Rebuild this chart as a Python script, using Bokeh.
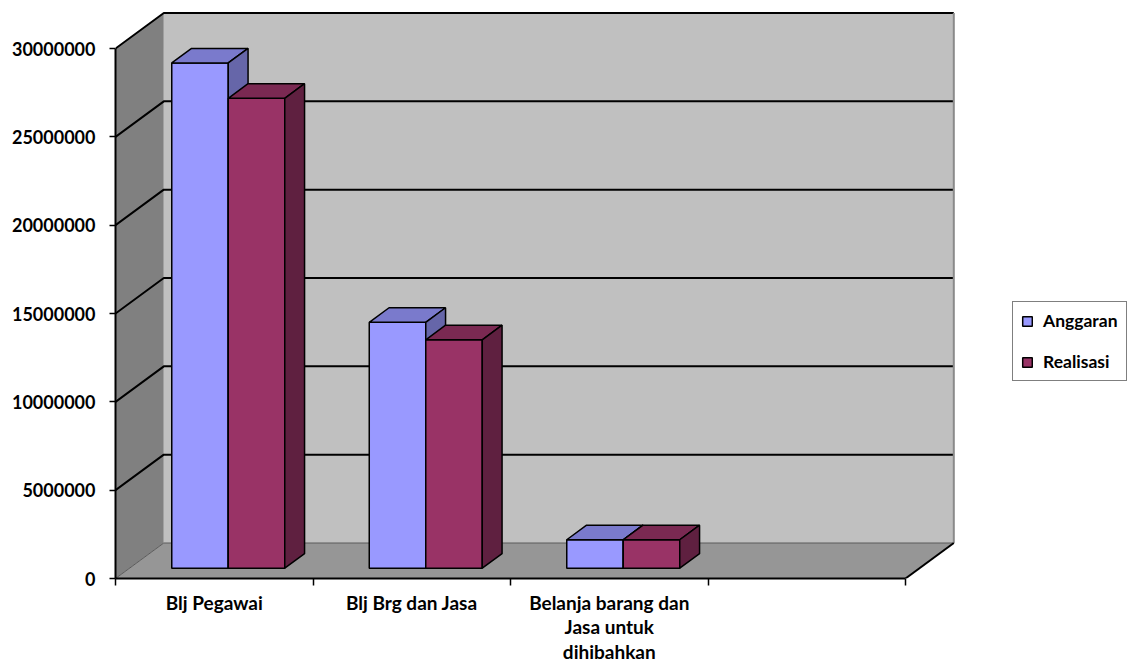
from bokeh.plotting import figure
from bokeh.models import (LinearAxis, FixedTicker, Legend, LegendItem, Range1d)
from bokeh.embed import file_html
from bokeh.resources import INLINE

# ---- data ----
categories = ["Blj Pegawai", "Blj Brg dan Jasa", "Belanja barang dan\nJasa untuk\ndihibahkan", ""]
series_names = ["Anggaran", "Realisasi"]
anggaran = [28600000, 13920000, 1610000]
realisasi = [26600000, 12930000, 1610000]
y_ticks = [0, 5000000, 10000000, 15000000, 20000000, 25000000, 30000000]
y_tick_labels = ["0", "5000000", "10000000", "15000000", "20000000", "25000000", "30000000"]

# ---- layout / style constants ----
W, H = 1129, 665
LEFT, FRAME_BOTTOM = 115, 578
PX_PER_CAT = 197.5
Y_MAX = y_ticks[-1]
PX_PER_UNIT = 530.0 / Y_MAX
N_SLOTS = len(categories)
DX = 48.3 / PX_PER_CAT        # wall depth, x data units
DY = 35.5 / PX_PER_UNIT       # wall depth, y data units
BW = 56.5 / PX_PER_CAT        # bar width
GAP = (1 - 2 * BW) / 2
F0 = 0.29                     # bar front depth fraction
FD = 0.41                     # bar depth fraction
FONT = "Lato"

p = figure(width=W, height=H, output_backend="svg", toolbar_location=None,
           x_axis_location=None, y_axis_location=None,
           x_range=Range1d(0, (W - LEFT) / PX_PER_CAT),
           y_range=Range1d(0, FRAME_BOTTOM / PX_PER_UNIT),
           min_border_left=LEFT, min_border_right=0, min_border_top=0,
           min_border_bottom=H - FRAME_BOTTOM)
p.outline_line_color = None
p.background_fill_color = "white"
p.border_fill_color = "white"
p.xgrid.visible = False
p.ygrid.visible = False

# walls and floor
p.patch([0, DX, DX, 0], [0, DY, DY + Y_MAX, Y_MAX], fill_color="#808080", line_color=None)
p.patch([DX, N_SLOTS + DX, N_SLOTS + DX, DX], [DY, DY, DY + Y_MAX, DY + Y_MAX],
        fill_color="#c0c0c0", line_color=None)
p.patch([0, N_SLOTS, N_SLOTS + DX, DX], [0, 0, DY, DY], fill_color="#969696", line_color=None)

# gridlines
gx, gy = [], []
for v in y_ticks[1:]:
    gx.append([0, DX, N_SLOTS + DX])
    gy.append([v, v + DY, v + DY])
p.multi_line(gx, gy, line_color="black", line_width=2)
p.line([0, DX, N_SLOTS + DX], [0, DY, DY], line_color="#5a5a5a", line_width=1)
p.line([N_SLOTS + DX, N_SLOTS + DX], [DY, DY + Y_MAX], line_color="#8a8a8a", line_width=2)
p.line([N_SLOTS, N_SLOTS + DX], [0, DY], line_color="black", line_width=2)

# bars
faces = {
    "Anggaran": ("#9999FF", "#7A7ACC", "#6666A9"),
    "Realisasi": ("#993366", "#7A2952", "#5F2040"),
}
fronts = {}
for s, (name, vals) in enumerate(zip(series_names, [anggaran, realisasi])):
    front_c, top_c, side_c = faces[name]
    ddx, ddy = FD * DX, FD * DY
    l, r, b, t = [], [], [], []
    tx, ty, sx, sy = [], [], [], []
    for i, v in enumerate(vals):
        x0 = i + GAP + s * BW + F0 * DX
        y0 = F0 * DY
        x1, y1 = x0 + BW, y0 + v
        l.append(x0); r.append(x1); b.append(y0); t.append(y1)
        tx.append([x0, x1, x1 + ddx, x0 + ddx]); ty.append([y1, y1, y1 + ddy, y1 + ddy])
        sx.append([x1, x1 + ddx, x1 + ddx, x1]); sy.append([y0, y0 + ddy, y1 + ddy, y1])
    fronts[name] = p.quad(left=l, right=r, bottom=b, top=t, fill_color=front_c,
                          line_color="black", line_width=1.5)
    p.patches(tx, ty, fill_color=top_c, line_color="black", line_width=1.5)
    p.patches(sx, sy, fill_color=side_c, line_color="black", line_width=1.5)

# axes
yaxis = LinearAxis(ticker=FixedTicker(ticks=y_ticks), bounds=(0, Y_MAX),
                   major_label_overrides={v: lbl for v, lbl in zip(y_ticks, y_tick_labels)},
                   axis_line_color="black", axis_line_width=2,
                   major_tick_out=6, major_tick_in=0, major_tick_line_width=1.5,
                   minor_tick_out=0, minor_tick_in=0,
                   major_label_standoff=14,
                   major_label_text_font=FONT, major_label_text_font_style="bold",
                   major_label_text_font_size="18px", major_label_text_color="black")
p.add_layout(yaxis, "left")

xaxis = LinearAxis(ticker=FixedTicker(ticks=[i + 0.5 for i in range(N_SLOTS)],
                                      minor_ticks=list(range(N_SLOTS + 1))),
                   bounds=(0, N_SLOTS),
                   major_label_overrides={i + 0.5: c for i, c in enumerate(categories)},
                   axis_line_color="black", axis_line_width=2,
                   major_tick_out=0, major_tick_in=0,
                   minor_tick_out=7, minor_tick_in=0, minor_tick_line_color="black",
                   minor_tick_line_width=1.5,
                   major_label_standoff=5,
                   major_label_text_font=FONT, major_label_text_font_style="bold",
                   major_label_text_font_size="19px", major_label_text_color="black",
                   major_label_text_line_height=1.07)
p.add_layout(xaxis, "below")

legend = Legend(items=[LegendItem(label=n, renderers=[fronts[n]]) for n in series_names],
                location=(897, 197), orientation="vertical",
                padding=8, spacing=20, margin=0,
                glyph_width=12, glyph_height=12, label_height=20, label_standoff=10,
                label_text_font=FONT, label_text_font_style="bold",
                label_text_font_size="17.5px", label_text_color="black",
                border_line_color="black", border_line_width=1,
                background_fill_color="white", background_fill_alpha=1)
p.add_layout(legend, "center")

open("out.html", "w").write(file_html(p, INLINE))
